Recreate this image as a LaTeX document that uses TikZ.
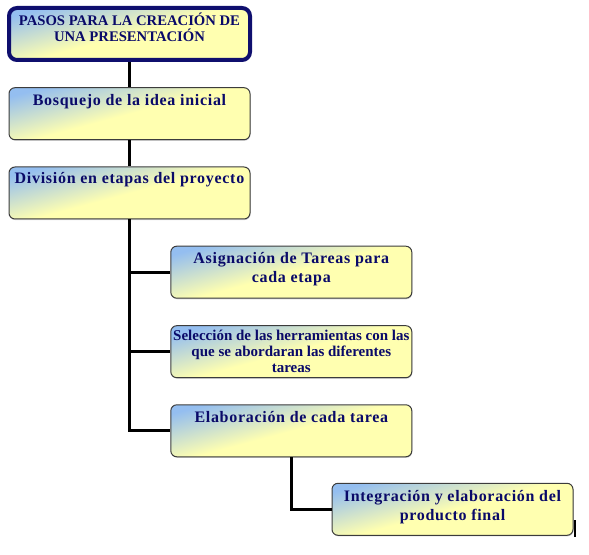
\documentclass[tikz,border=0pt]{standalone}
\usepackage{fontspec}
\setmainfont{Liberation Serif}
\usetikzlibrary{positioning}
\usetikzlibrary{shadows}
\tikzset{every picture/.style={line width=0.75pt}}

\definecolor{boxblue}{RGB}{148,190,240}
\definecolor{boxyellow}{RGB}{255,255,176}
\definecolor{txtnavy}{RGB}{10,10,105}
\definecolor{titlenavy}{RGB}{15,15,110}
\definecolor{boxedge}{RGB}{60,60,60}
\pgfdeclarehorizontalshading{boxshade}{100bp}{color(0bp)=(boxblue); color(24bp)=(boxblue); color(50bp)=(boxyellow); color(100bp)=(boxyellow)}

\tikzset{
  stepbox/.style={draw=boxedge, rounded corners=4.5pt, shading=boxshade, shading angle=-75,
    drop shadow={shadow xshift=0.4pt, shadow yshift=-0.8pt, opacity=0.35},
    minimum width=180.75pt, minimum height=39pt, inner sep=0pt},
  titlebox/.style={stepbox, draw=titlenavy, line width=3pt, rounded corners=6pt},
  steptext/.style={font=\bfseries\fontsize{12}{14.25}\selectfont\addfontfeature{LetterSpace=4.4},
    text=txtnavy, align=center, inner sep=0pt},
  connector/.style={draw=black, line width=2.25pt},
}

\begin{document}
\begin{tikzpicture}[x=0.75pt,y=-0.75pt]
\useasboundingbox (0,0) rectangle (589,555);

%Shape: Title box
\node [titlebox] (pasos) at (129.5,34) {};
%Shape: Step boxes
\node [stepbox] (bosquejo) at (129.5,113.7) {};
\node [stepbox] (division) at (129.5,193) {};
\node [stepbox] (asignacion) at (291.3,272.2) {};
\node [stepbox] (seleccion) at (291.3,351.7) {};
\node [stepbox] (elaboracion) at (291.3,430.8) {};
\node [stepbox] (integracion) at (452.5,509.3) {};

%Connectors
\draw [connector] (pasos.south) -- (bosquejo.north);
\draw [connector] (bosquejo.south) -- (division.north);
\draw [connector] (division.south) |- (asignacion.west);
\draw [connector] (division.south) |- (seleccion.west);
\draw [connector] (division.south) |- (elaboracion.west);
\draw [connector] (elaboracion.south) |- (integracion.west);
\draw [line width=1.5pt] (integracion.south east) ++(1.5,1) -- ++(0,-17);

% Text Node
\node [steptext, font=\bfseries\fontsize{11}{12}\selectfont, below=4.9pt of pasos.north] (pasosTxt) {PASOS PARA LA CREACIÓN DE\\UNA PRESENTACIÓN};
% Text Node
\node [steptext, below=5pt of bosquejo.north] (bosquejoTxt) {Bosquejo de la idea inicial};
% Text Node
\node [steptext, below=3.9pt of division.north] (divisionTxt) {División en etapas del proyecto};
% Text Node
\node [steptext, below=4.6pt of asignacion.north] (asignacionTxt) {Asignación de Tareas para\\cada etapa};
% Text Node
\node [steptext, font=\bfseries\fontsize{11.25}{12}\selectfont, below=3.4pt of seleccion.north] (seleccionTxt) {Selección de las herramientas con las\\que se abordaran las diferentes\\tareas};
% Text Node
\node [steptext, below=4.6pt of elaboracion.north] (elaboracionTxt) {Elaboración de cada tarea};
% Text Node
\node [steptext, below=5.3pt of integracion.north] (integracionTxt) {Integración y elaboración del\\producto final};

\end{tikzpicture}
\end{document}
